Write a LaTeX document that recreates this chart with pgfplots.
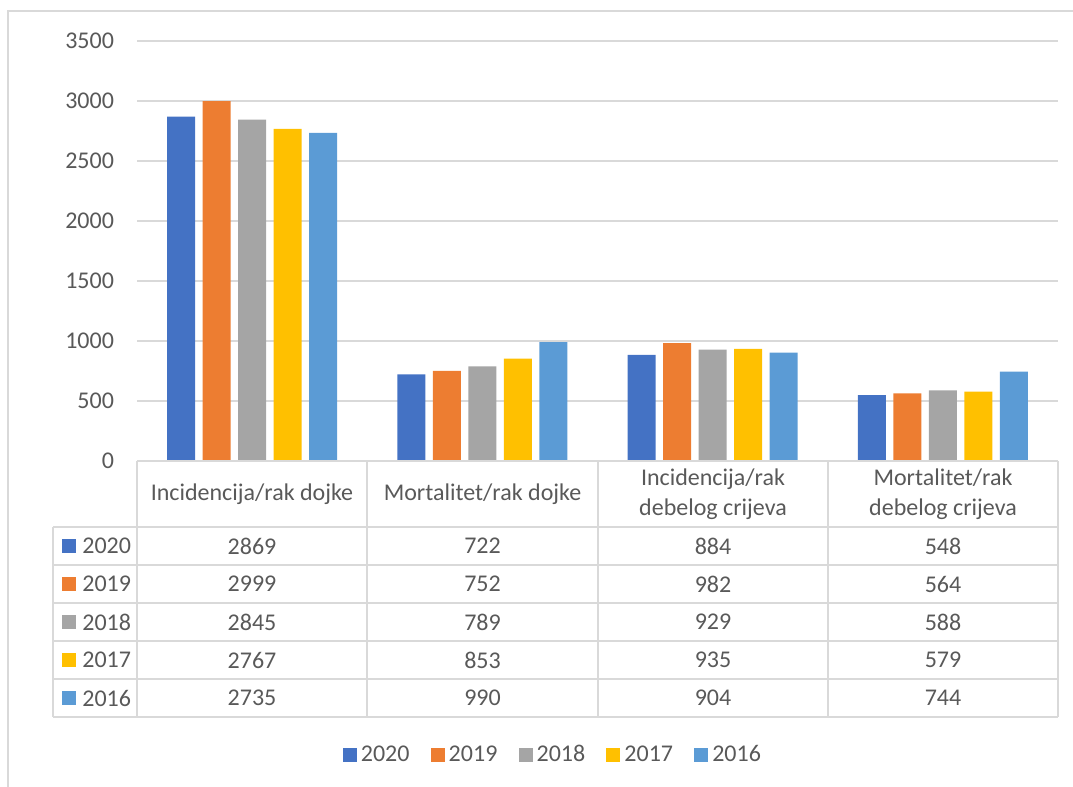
\documentclass[border=0pt]{standalone}
\usepackage{pgfplots}
\pgfplotsset{compat=1.18}
\usepackage{pgfplotstable}
\usepackage{fontspec}
\setmainfont{Carlito}
\definecolor{c1}{HTML}{4472C4}
\definecolor{c2}{HTML}{ED7D31}
\definecolor{c3}{HTML}{A5A5A5}
\definecolor{c4}{HTML}{FFC000}
\definecolor{c5}{HTML}{5B9BD5}
\definecolor{gridc}{HTML}{D9D9D9}
\definecolor{txt}{HTML}{595959}
\pgfplotstableread{
x y2020 y2019 y2018 y2017 y2016
0 2869 2999 2845 2767 2735
1 722 752 789 853 990
2 884 982 929 935 904
3 548 564 588 579 744
}\data
\newcommand{\tf}{\fontsize{12pt}{15pt}\selectfont}
\begin{document}
\begin{tikzpicture}[x=0.5pt,y=-0.5pt]
\useasboundingbox (0,0) rectangle (1073,787);
\draw[gridc, line width=1pt] (8,787) -- (8,11) -- (1073,11);
\begin{axis}[
  at={(68.5pt,-230.5pt)}, anchor=south west,
  scale only axis, width=460.5pt, height=210pt,
  xmin=-0.5, xmax=3.5, ymin=0, ymax=3500,
  ybar=3.75pt, bar width=14pt,
  axis line style={draw=none},
  xtick=\empty,
  ytick={0,500,...,3500},
  major tick length=0pt,
  ymajorgrids, grid style={gridc, line width=1pt},
  yticklabel style={text=txt, font=\tf, anchor=east, xshift=-8pt},
  /pgf/number format/assume math mode=true,
  /pgf/number format/1000 sep={},
  clip=false,
  legend columns=5,
  legend style={draw=none, fill=none, at={(0.4527,-0.70)}, anchor=center,
    font=\tf, text=txt, /tikz/every even column/.append style={column sep=8.6pt}},
  legend image code/.code={\fill[#1] (0pt,-3.5pt) rectangle (7pt,3.5pt);},
]
\addplot[fill=c1, draw=none] table[x=x,y=y2020]{\data};
\addplot[fill=c2, draw=none] table[x=x,y=y2019]{\data};
\addplot[fill=c3, draw=none] table[x=x,y=y2018]{\data};
\addplot[fill=c4, draw=none] table[x=x,y=y2017]{\data};
\addplot[fill=c5, draw=none] table[x=x,y=y2016]{\data};
\legend{2020,2019,2018,2017,2016}
\end{axis}
% data table
\begin{scope}[gridc, line width=1pt]
\draw (137,461) -- (1058,461);
\foreach \yy in {527,565,603,641,679,717} \draw (53,\yy) -- (1058,\yy);
\foreach \xx in {137,367,598,828,1058} \draw (\xx,461) -- (\xx,717);
\draw (53,527) -- (53,717);
\end{scope}
\begin{scope}[every node/.style={font=\tf, text=txt, align=center, inner sep=0pt}]
\node at (252,494) {Incidencija/rak dojke};
\node at (482.5,494) {Mortalitet/rak dojke};
\node at (713,494) {Incidencija/rak\\debelog crijeva};
\node at (943,494) {Mortalitet/rak\\debelog crijeva};
\foreach \yr/\yy/\cc/\a/\b/\c/\d in {2020/546/c1/2869/722/884/548, 2019/584/c2/2999/752/982/564, 2018/622/c3/2845/789/929/588, 2017/660/c4/2767/853/935/579, 2016/698/c5/2735/990/904/744}{
  \fill[\cc] (62,\yy-7) rectangle (76,\yy+7);
  \node[anchor=west] at (82,\yy) {\yr};
  \node at (252,\yy) {\a};
  \node at (482.5,\yy) {\b};
  \node at (713,\yy) {\c};
  \node at (943,\yy) {\d};
}
\end{scope}
\end{tikzpicture}
\end{document}
